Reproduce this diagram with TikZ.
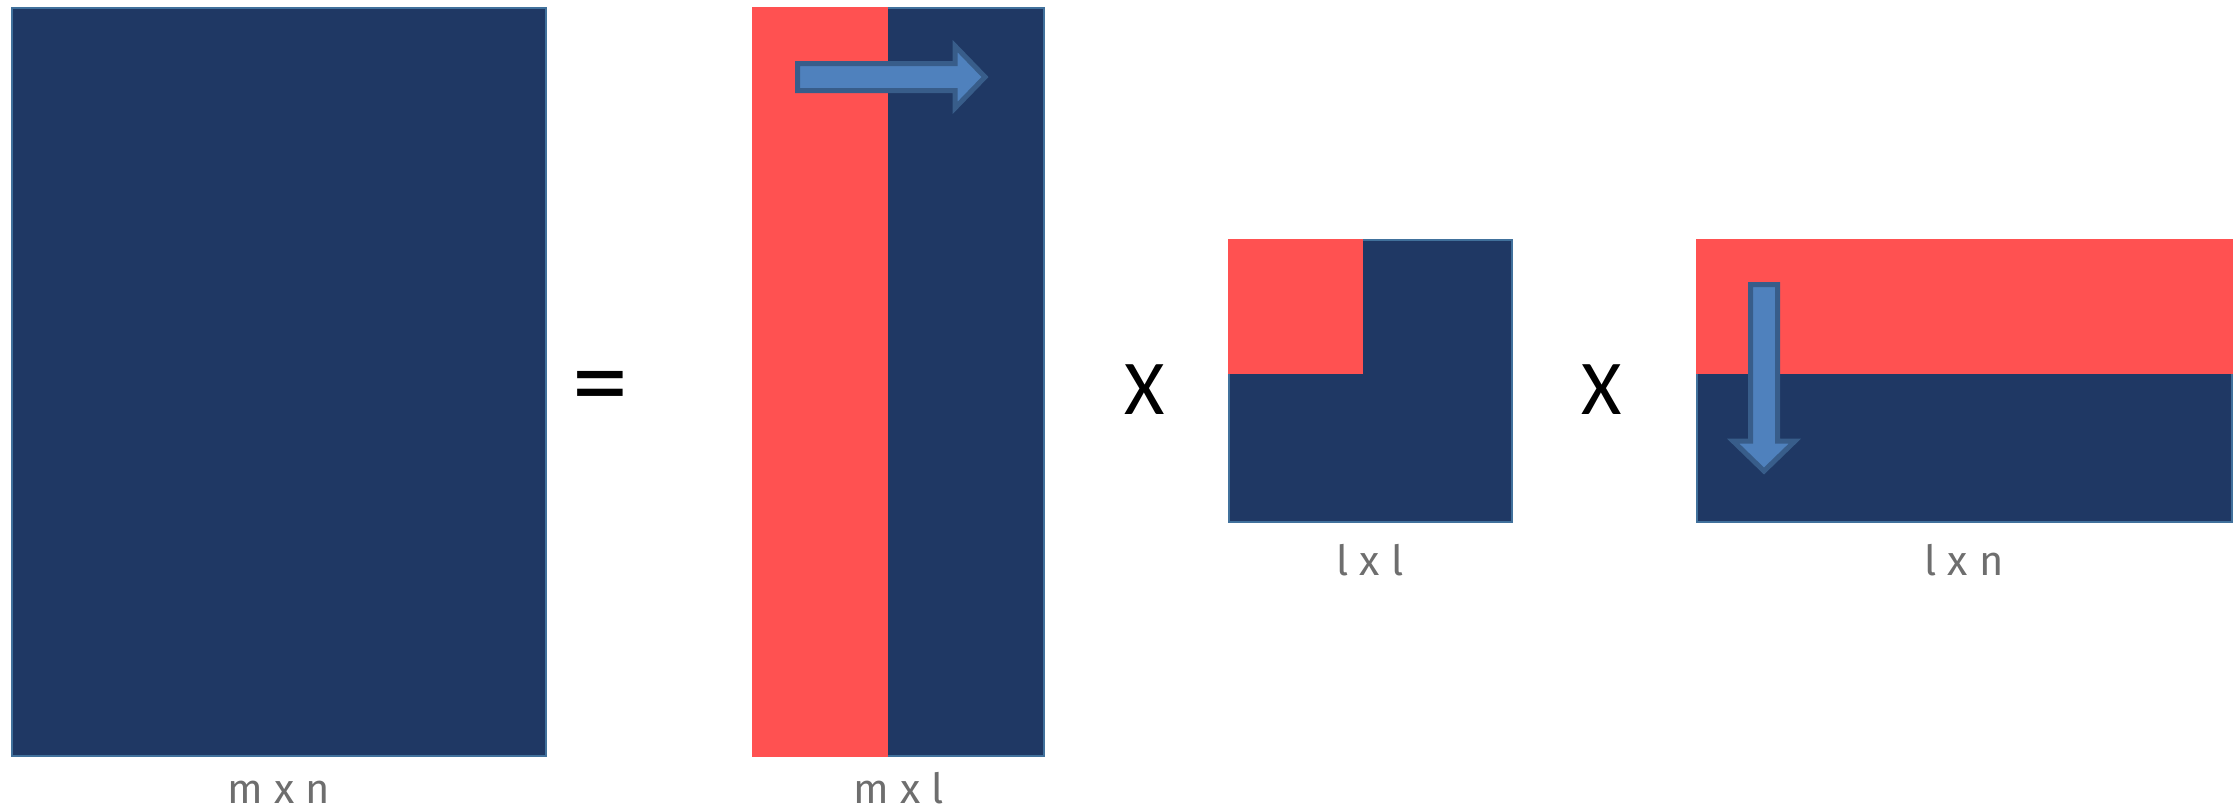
\documentclass[tikz,border=0pt]{standalone}
\usepackage{fontspec}
\newfontfamily\lblfont{Fira Sans}
\newfontfamily\opfont{Carlito}
\definecolor{navy}{RGB}{31,56,100}
\definecolor{redm}{RGB}{255,81,81}
\definecolor{edgeblue}{RGB}{65,113,156}
\definecolor{arrowfill}{RGB}{79,129,189}
\definecolor{arrowedge}{RGB}{56,93,138}
\definecolor{lblgray}{RGB}{110,110,110}
\tikzset{
  mat/.style={fill=navy, draw=edgeblue, line width=1pt},
  part/.style={fill=redm},
  blockarrow/.style={fill=arrowfill, draw=arrowedge, line width=2.5pt, line join=miter},
  dimlabel/.style={font=\lblfont\fontsize{20.8}{24}\selectfont, text=lblgray, anchor=base, inner sep=0pt},
  opsym/.style={font=\opfont\fontsize{38.8}{44}\selectfont, text=black, anchor=base, inner sep=0pt},
  eqsym/.style={font=\opfont\fontsize{56}{60}\selectfont, text=black, anchor=base, inner sep=0pt}
}
\begin{document}
\begin{tikzpicture}[x=0.5pt,y=-0.5pt]
\useasboundingbox (0,0) rectangle (2239,811);
% matrix A (m x n)
\draw[mat] (12,8) rectangle (546,756);
% matrix B (m x l)
\draw[mat] (753,8) rectangle (1044,756);
\fill[part] (752,7) rectangle (888,757);
% matrix C (l x l)
\draw[mat] (1229,240) rectangle (1512,522);
\fill[part] (1228,239) rectangle (1363,374);
% matrix D (l x n)
\draw[mat] (1697,240) rectangle (2232,522);
\fill[part] (1696,239) rectangle (2233,374);
% block arrows
\draw[blockarrow] (797.5,63.5) -- (955,63.5) -- (955,46) -- (985,77) -- (955,108) -- (955,90.5) -- (797.5,90.5) -- cycle;
\draw[blockarrow] (1750.5,284.5) -- (1750.5,441) -- (1733,441) -- (1764,471) -- (1795,441) -- (1777.5,441) -- (1777.5,284.5) -- cycle;
% operators
\node[eqsym] (eq) at (600,419) {=};
\node[opsym] (times1) at (1145,414) {X};
\node[opsym] (times2) at (1602,414) {X};
% dimension labels
\node[dimlabel] (lblA) at (279,803) {m x n};
\node[dimlabel] (lblB) at (899,803) {m x l};
\node[dimlabel] (lblC) at (1370,575) {l x l};
\node[dimlabel] (lblD) at (1964,575) {l x n};
\end{tikzpicture}
\end{document}
